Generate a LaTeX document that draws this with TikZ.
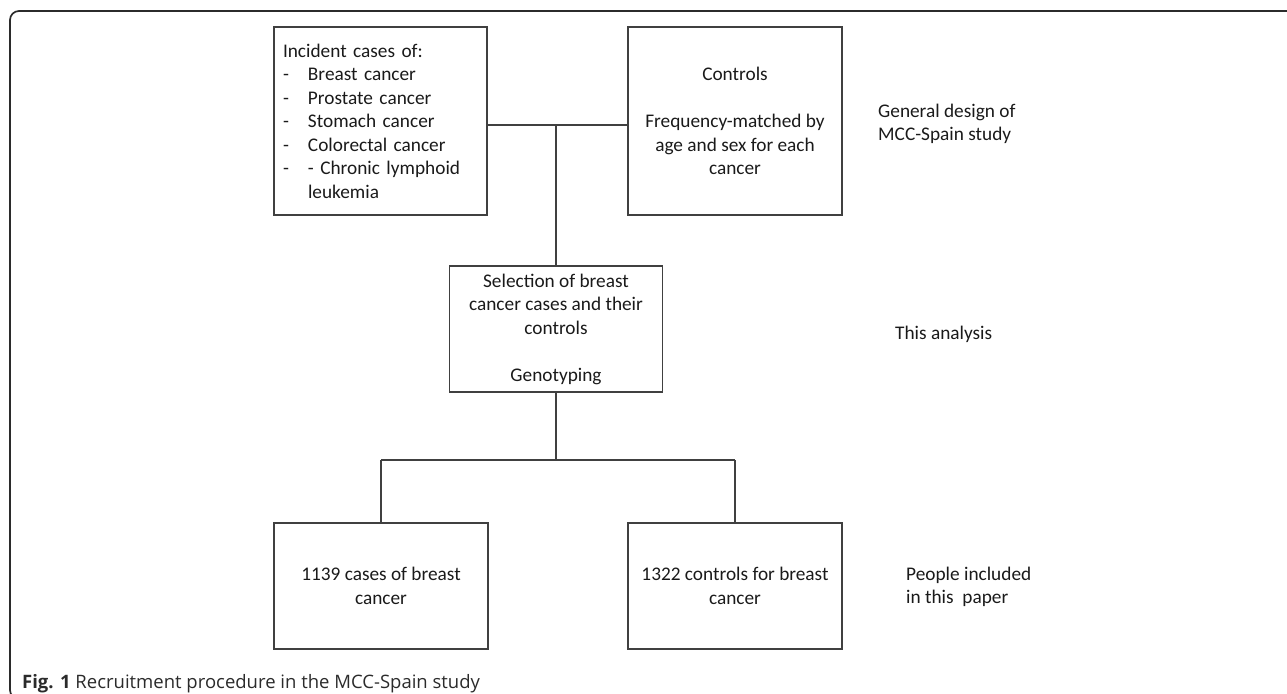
\documentclass[tikz,border=0pt]{standalone}
\usepackage{fontspec}
\setmainfont{Carlito}
\newfontfamily\capfont{Open Sans}
\newcommand\boxfont{\fontsize{19.3}{23.5}\selectfont}
\definecolor{linegray}{HTML}{404040}
\definecolor{textdark}{HTML}{1A1A1A}
\definecolor{framegray}{HTML}{2B2B2B}
\begin{document}
\begin{tikzpicture}[x=1pt,y=-1pt,
  box/.style={draw=linegray, line width=1.1pt, inner sep=0pt, align=center,
    font=\boxfont, text=textdark},
  side/.style={anchor=west, align=left, inner sep=0pt, font=\boxfont, text=textdark},
  conn/.style={draw=linegray, line width=1.1pt}]
\useasboundingbox (0,0) rectangle (1287,693);
% frame
\draw[framegray, line width=1.7pt, rounded corners=9pt] (1290,11) -- (10,11) -- (10,699) -- (22,699);
% boxes
\node[box, minimum width=213pt, minimum height=188pt, text width=195pt, align=left] (A) at (380.5,121)
  {Incident cases of:\\
   \makebox[25pt][l]{-}Breast cancer\\
   \makebox[25pt][l]{-}Prostate cancer\\
   \makebox[25pt][l]{-}Stomach cancer\\
   \makebox[25pt][l]{-}Colorectal cancer\\
   \makebox[25pt][l]{-}- Chronic lymphoid\\
   \hspace*{25pt}leukemia};
\node[box, minimum width=214pt, minimum height=188pt] (B) at (735,121)
  {Controls\\ ~\\ Frequency-matched by\\ age and sex for each\\ cancer};
\node[box, minimum width=213pt, minimum height=126pt] (C) at (556,329)
  {Selection of breast\\ cancer cases and their\\ controls\\ ~\\ Genotyping};
\node[box, minimum width=214pt, minimum height=126pt] (D) at (381,586)
  {1139 cases of breast\\ cancer};
\node[box, minimum width=214pt, minimum height=126pt] (E) at (735,586)
  {1322 controls for breast\\ cancer};
% side labels
\node[side] (L1) at (878,124) {General design of\\MCC-Spain study};
\node[side] (L2) at (895,334) {This analysis};
\node[side] (L3) at (906,587) {People included\\in this\ \ paper};
% connectors
\coordinate (j1) at (556,125);
\coordinate (j2) at (556,460);
\draw[conn] (A.east |- j1) -- (B.west |- j1);
\draw[conn] (j1) -- (j1 |- C.north);
\draw[conn] (C.south) -- (j2);
\draw[conn] (D.north |- j2) -- (E.north |- j2);
\draw[conn] (D.north |- j2) -- (D.north);
\draw[conn] (E.north |- j2) -- (E.north);
% caption
\node[anchor=west, inner sep=0pt, font=\capfont\fontsize{18.5}{22}\selectfont, text=framegray] (cap) at (22,684)
  {\textbf{Fig. 1} Recruitment procedure in the MCC-Spain study};
\end{tikzpicture}
\end{document}
